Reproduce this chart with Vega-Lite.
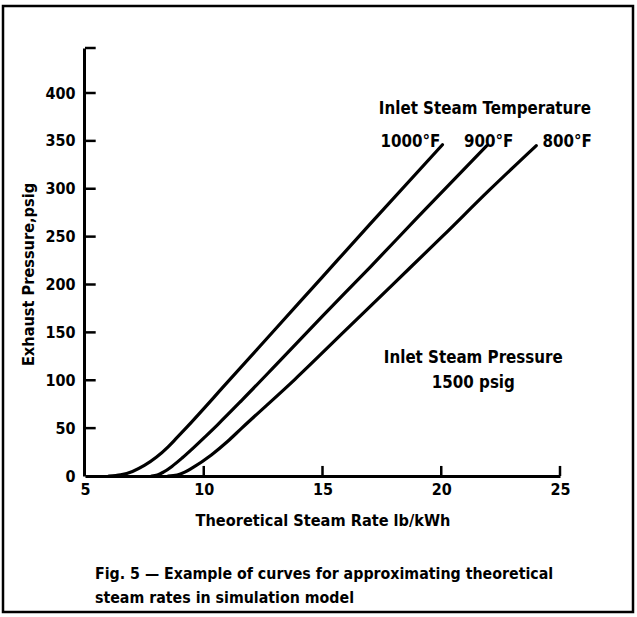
{
  "$schema": "https://vega.github.io/schema/vega-lite/v6.json",
  "autosize": "none",
  "width": 630,
  "height": 606,
  "padding": {"left": 3, "top": 6, "right": 4, "bottom": 5},
  "background": "white",
  "config": {
    "view": {"stroke": "black", "strokeWidth": 2.5},
    "font": "DejaVu Sans Condensed, DejaVu Sans, sans-serif"
  },
  "encoding": {
    "x": {
      "field": "x", "type": "quantitative",
      "scale": {"domain": [5, 25], "range": [82, 557], "nice": false, "zero": false},
      "axis": {
        "values": [5, 10, 15, 20, 25],
        "offset": -136,
        "grid": false,
        "ticks": false,
        "domainColor": "black", "domainWidth": 3,
        "labelFontSize": 16, "labelFontWeight": "bold", "labelColor": "black",
        "labelPadding": 5, "labelFlush": false, "labelOverlap": false,
        "title": "Theoretical Steam Rate lb/kWh",
        "titleFontSize": 16.2, "titleFontWeight": "bold", "titleColor": "black",
        "titleBaseline": "middle", "titleY": 44
      }
    },
    "y": {
      "field": "y", "type": "quantitative",
      "scale": {"domain": [0, 447], "range": [470, 42], "nice": false, "zero": false},
      "axis": {
        "values": [0, 50, 100, 150, 200, 250, 300, 350, 400],
        "offset": -81,
        "grid": false,
        "ticks": false,
        "domainColor": "black", "domainWidth": 3,
        "labelFontSize": 16, "labelFontWeight": "bold", "labelColor": "black",
        "labelPadding": 9, "labelFlush": false, "labelOverlap": false,
        "title": "Exhaust Pressure,psig",
        "titleFontSize": 16.2, "titleFontWeight": "bold", "titleColor": "black",
        "titleBaseline": "middle", "titleAlign": "center", "titleX": -56, "titleY": 268
      }
    }
  },
  "layer": [
    {
      "data": {"values": [
        {"series": "1000°F", "x": 6.0, "y": 0},
        {"series": "1000°F", "x": 6.5, "y": 1.2},
        {"series": "1000°F", "x": 7.0, "y": 4.8},
        {"series": "1000°F", "x": 7.5, "y": 11},
        {"series": "1000°F", "x": 8.0, "y": 19.5},
        {"series": "1000°F", "x": 8.5, "y": 30.5},
        {"series": "1000°F", "x": 8.85, "y": 39.5},
        {"series": "1000°F", "x": 9.25, "y": 50},
        {"series": "1000°F", "x": 11.0, "y": 98},
        {"series": "1000°F", "x": 13.0, "y": 153},
        {"series": "1000°F", "x": 15.0, "y": 208},
        {"series": "1000°F", "x": 17.0, "y": 263},
        {"series": "1000°F", "x": 20.05, "y": 346},
        {"series": "900°F", "x": 7.8, "y": 0},
        {"series": "900°F", "x": 8.05, "y": 1},
        {"series": "900°F", "x": 8.3, "y": 4},
        {"series": "900°F", "x": 8.66, "y": 10},
        {"series": "900°F", "x": 9.1, "y": 19},
        {"series": "900°F", "x": 9.46, "y": 27},
        {"series": "900°F", "x": 10.1, "y": 42},
        {"series": "900°F", "x": 10.58, "y": 53.5},
        {"series": "900°F", "x": 11.6, "y": 79},
        {"series": "900°F", "x": 13.0, "y": 115},
        {"series": "900°F", "x": 15.0, "y": 167},
        {"series": "900°F", "x": 17.0, "y": 218},
        {"series": "900°F", "x": 19.0, "y": 270},
        {"series": "900°F", "x": 21.92, "y": 345},
        {"series": "800°F", "x": 8.5, "y": 0},
        {"series": "800°F", "x": 8.88, "y": 1},
        {"series": "800°F", "x": 9.2, "y": 4},
        {"series": "800°F", "x": 9.52, "y": 8.5},
        {"series": "800°F", "x": 10.32, "y": 22},
        {"series": "800°F", "x": 11.0, "y": 36},
        {"series": "800°F", "x": 11.6, "y": 50},
        {"series": "800°F", "x": 13.84, "y": 101},
        {"series": "800°F", "x": 15.92, "y": 151},
        {"series": "800°F", "x": 18.0, "y": 201},
        {"series": "800°F", "x": 20.08, "y": 251},
        {"series": "800°F", "x": 22.0, "y": 298},
        {"series": "800°F", "x": 24.0, "y": 345}
      ]},
      "mark": {"type": "line", "color": "black", "strokeWidth": 3.2, "interpolate": "monotone", "strokeCap": "round", "clip": false},
      "encoding": {"detail": {"field": "series"}}
    },
    {
      "data": {"values": [{"x": 10, "y": 0}, {"x": 15, "y": 0}, {"x": 20, "y": 0}, {"x": 25, "y": 0}]},
      "mark": {"type": "rule", "color": "black", "strokeWidth": 2.5},
      "encoding": {
        "y2": {"datum": 10.5}
      }
    },
    {
      "data": {"values": [{"x": 5, "y": 50}, {"x": 5, "y": 100}, {"x": 5, "y": 150}, {"x": 5, "y": 200}, {"x": 5, "y": 250}, {"x": 5, "y": 300}, {"x": 5, "y": 350}, {"x": 5, "y": 400}, {"x": 5, "y": 447}]},
      "mark": {"type": "rule", "color": "black", "strokeWidth": 2.5},
      "encoding": {
        "x2": {"datum": 5.45}
      }
    },
    {
      "data": {"values": [
        {"x": 21.84, "y": 383, "label": "Inlet Steam Temperature"},
        {"x": 18.7, "y": 349, "label": "1000°F"},
        {"x": 22.0, "y": 349, "label": "900°F"},
        {"x": 25.3, "y": 349, "label": "800°F"},
        {"x": 21.35, "y": 123, "label": "Inlet Steam Pressure"},
        {"x": 21.35, "y": 97, "label": "1500 psig"}
      ]},
      "mark": {"type": "text", "fontSize": 16.8, "fontWeight": "bold", "color": "black", "align": "center", "baseline": "middle", "clip": false},
      "encoding": {"text": {"field": "label"}}
    },
    {
      "data": {"values": [
        {"x": 5.42, "y": -102, "label": "Fig. 5 — Example of curves for approximating theoretical"},
        {"x": 5.42, "y": -127, "label": "steam rates in simulation model"}
      ]},
      "mark": {"type": "text", "fontSize": 15.8, "fontWeight": "bold", "color": "black", "align": "left", "baseline": "middle", "clip": false},
      "encoding": {"text": {"field": "label"}}
    }
  ]
}
